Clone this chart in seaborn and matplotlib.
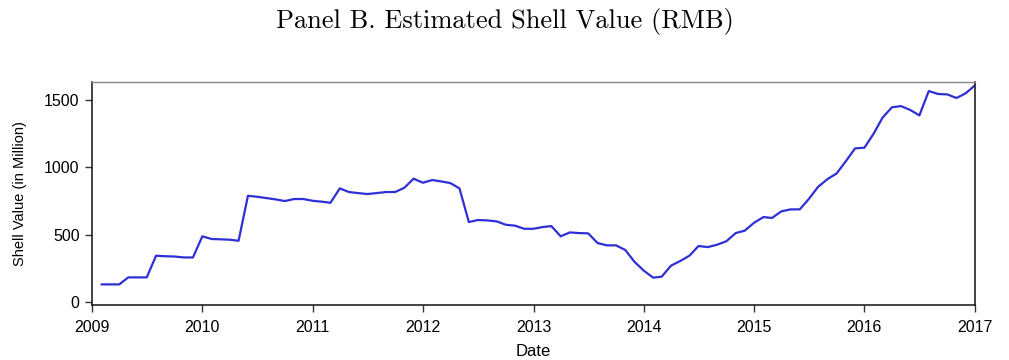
import numpy as np
import pandas as pd
import matplotlib
matplotlib.use("Agg")
import matplotlib.pyplot as plt
import matplotlib.dates as mdates
import seaborn as sns

# monthly shell value estimates (RMB million), Feb 2009 .. Jan 2017
dates = pd.date_range("2009-02-01", "2017-01-01", freq="MS")
shell_value = [
    131, 131, 131, 183, 183, 183, 344, 340, 338, 331, 331, 488,
    468, 466, 463, 455, 789, 782, 772, 762, 750, 765, 765, 752,
    745, 737, 844, 817, 809, 802, 809, 817, 817, 849, 916, 886,
    906, 896, 883, 844, 594, 609, 606, 599, 574, 567, 544, 544,
    557, 564, 488, 517, 512, 510, 438, 421, 421, 386, 299, 233,
    181, 188, 270, 304, 344, 416, 408, 426, 451, 512, 530, 589,
    631, 624, 673, 688, 688, 765, 856, 913, 955, 1047, 1141, 1146,
    1252, 1369, 1446, 1455, 1426, 1386, 1567, 1545, 1542, 1515, 1550, 1609,
]
year_ticks = list(range(2009, 2018))

df = pd.DataFrame({"Date": dates, "Shell": shell_value})

sns.set_style("ticks")
plt.rcParams["font.family"] = ["Liberation Sans", "DejaVu Sans"]
plt.rcParams["text.color"] = "black"
plt.rcParams["axes.labelcolor"] = "black"
plt.rcParams["xtick.color"] = "black"
plt.rcParams["ytick.color"] = "black"

fig = plt.figure(figsize=(10.09, 3.6), dpi=100)
ax = fig.add_axes([0.0912, 0.1528, 0.8751, 0.6194])

sns.lineplot(data=df, x="Date", y="Shell", color="#2f2fd6", linewidth=1.6, ax=ax)

ax.set_xlim(pd.Timestamp("2009-01-01"), pd.Timestamp("2017-01-01"))
ax.set_ylim(-22, 1634)
ax.set_xticks([pd.Timestamp(f"{y}-01-01") for y in year_ticks])
ax.xaxis.set_major_formatter(mdates.DateFormatter("%Y"))
ax.set_yticks([0, 500, 1000, 1500])

ax.tick_params(axis="both", labelsize=11.5, length=5, width=1, color="#333333")
ax.tick_params(axis="x", pad=6)
ax.tick_params(axis="y", pad=4)
ax.set_xlabel("Date", fontsize=12, labelpad=6)
ax.set_ylabel("Shell Value (in Million)", fontsize=10.5, labelpad=12)

for side in ["left", "bottom", "right"]:
    ax.spines[side].set_color("#111111")
    ax.spines[side].set_linewidth(1.1)
ax.spines["top"].set_color("#888888")
ax.spines["top"].set_linewidth(1.0)

fig.text(0.5, 0.939, "Panel B. Estimated Shell Value (RMB)", ha="center", va="center",
         fontsize=19, family="cmr10")

fig.savefig("out.png", dpi=100)
plt.close(fig)
